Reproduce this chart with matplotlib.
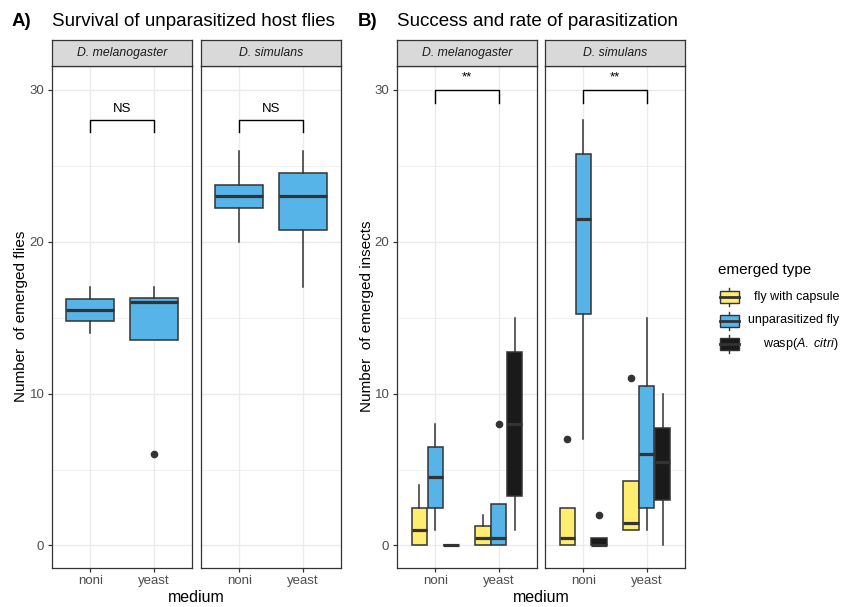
import numpy as np
import matplotlib
matplotlib.use("Agg")
import matplotlib.pyplot as plt
from matplotlib.patches import Rectangle

plt.rcParams['font.family'] = ['Liberation Sans', 'DejaVu Sans']
plt.rcParams['mathtext.fontset'] = 'custom'
plt.rcParams['mathtext.rm'] = 'Liberation Sans'
plt.rcParams['mathtext.it'] = 'Liberation Sans:italic'

# ---- data ----
species = ['D. melanogaster', 'D. simulans']
media = ['noni', 'yeast']

# panel A: unparasitized flies, [species][medium]
a_q1 = [[14.75, 13.5], [22.25, 20.75]]
a_med = [[15.5, 16.0], [23.0, 23.0]]
a_q3 = [[16.25, 16.3], [23.75, 24.5]]
a_lo = [[14.0, 13.5], [20.0, 17.0]]
a_hi = [[17.0, 17.0], [26.0, 26.0]]
a_out = [[[], [6.0]], [[], []]]
a_sig = ['NS', 'NS']

# panel B: emerged type, [species][medium][type]
types = ['fly with capsule', 'unparasitized fly', 'wasp(A. citri)']
type_cols = ['#FFED6F', '#56B4E9', '#1A1A1A']
b_q1 = [[[0, 2.5, 0], [0, 0, 3.25]], [[0, 15.25, 0], [1.0, 2.5, 3.0]]]
b_med = [[[1.0, 4.5, 0], [0.5, 0.5, 8.0]], [[0.5, 21.5, 0], [1.5, 6.0, 5.5]]]
b_q3 = [[[2.5, 6.5, 0], [1.25, 2.75, 12.75]], [[2.5, 25.75, 0.5], [4.25, 10.5, 7.75]]]
b_lo = [[[0, 1.0, 0], [0, 0, 1.0]], [[0, 7.0, 0], [1.0, 1.0, 0]]]
b_hi = [[[4.0, 8.0, 0], [2.0, 2.75, 15.0]], [[2.5, 28.0, 0.5], [4.25, 15.0, 10.0]]]
b_out = [[[[], [], []], [[], [8.0], []]], [[[7.0], [], [2.0]], [[11.0], [], []]]]
b_sig = ['**', '**']

W, H = 841, 607
fig = plt.figure(figsize=(W / 100, H / 100), dpi=100)

edge = '#333333'
ylim = (-1.45, 31.6)


def px_axes(x0, y0, x1, y1):
    return fig.add_axes([x0 / W, 1 - y1 / H, (x1 - x0) / W, (y1 - y0) / H])


def style_panel(ax, show_y):
    ax.set_xlim(0.4, 2.6)
    ax.set_ylim(*ylim)
    ax.set_xticks([1, 2])
    ax.set_xticklabels(media)
    ax.set_yticks([0, 10, 20, 30])
    ax.set_yticks([5, 15, 25], minor=True)
    ax.grid(True, which='major', color='#EBEBEB', lw=1.0, zorder=0)
    ax.grid(True, which='minor', axis='y', color='#EBEBEB', lw=0.5, zorder=0)
    ax.set_axisbelow(True)
    for s in ax.spines.values():
        s.set_color('#333333')
        s.set_linewidth(0.9)
    ax.tick_params(which='major', length=3, color='#333333', labelcolor='#4D4D4D',
                   labelsize=9.5, width=0.9, pad=2.5)
    ax.tick_params(which='minor', length=0)
    if not show_y:
        ax.tick_params(axis='y', left=False, labelleft=False)


def strip(x0, x1, label):
    s = px_axes(x0, 39.5, x1, 65.5)
    s.set_facecolor('#D9D9D9')
    s.set_xticks([])
    s.set_yticks([])
    for sp in s.spines.values():
        sp.set_color('#333333')
        sp.set_linewidth(0.9)
    s.text(0.5, 0.47, label, ha='center', va='center', fontsize=8.8, style='italic',
           color='#1A1A1A', transform=s.transAxes)


def draw_box(ax, pos, width, q1, med, q3, lo, hi, fl, fc):
    st = [dict(med=med, q1=q1, q3=q3, whislo=lo, whishi=hi, fliers=fl)]
    ax.bxp(st, positions=[pos], widths=width, patch_artist=True, showcaps=False,
           manage_ticks=False,
           boxprops=dict(facecolor=fc, edgecolor=edge, lw=1.1),
           medianprops=dict(color=edge, lw=2.3),
           whiskerprops=dict(color=edge, lw=1.1),
           flierprops=dict(marker='o', markerfacecolor=edge, markeredgecolor=edge,
                           markersize=4.5), zorder=3)


def bracket(ax, y, drop, label, ty):
    ax.plot([1, 1, 2, 2], [y - drop, y, y, y - drop], color='black', lw=1.0, zorder=4)
    ax.text(1.5, ty, label, ha='center', va='bottom', fontsize=9.5)


# ---- panel A ----
a_x = [(52, 192), (201, 341)]
for i, (x0, x1) in enumerate(a_x):
    ax = px_axes(x0, 65.5, x1, 567.5)
    for j in range(2):
        draw_box(ax, j + 1, 0.75, a_q1[i][j], a_med[i][j], a_q3[i][j],
                 a_lo[i][j], a_hi[i][j], a_out[i][j], '#56B4E9')
    style_panel(ax, i == 0)
    bracket(ax, 28.0, 0.8, a_sig[i], 28.35)
    strip(x0, x1, species[i])
    if i == 0:
        ax.set_ylabel('Number  of emerged flies', fontsize=11, labelpad=1)

# ---- panel B ----
b_x = [(397, 537), (545, 685)]
offs = [-0.25, 0.0, 0.25]
for i, (x0, x1) in enumerate(b_x):
    ax = px_axes(x0, 65.5, x1, 567.5)
    for j in range(2):
        for k in range(3):
            draw_box(ax, j + 1 + offs[k], 0.24, b_q1[i][j][k], b_med[i][j][k],
                     b_q3[i][j][k], b_lo[i][j][k], b_hi[i][j][k], b_out[i][j][k],
                     type_cols[k])
    style_panel(ax, i == 0)
    bracket(ax, 30.0, 0.85, b_sig[i], 30.4)
    strip(x0, x1, species[i])
    if i == 0:
        ax.set_ylabel('Number  of emerged insects', fontsize=11, labelpad=0)

# titles and x labels
fig.text(12 / W, 1 - 21 / H, 'A)', fontsize=13.5, fontweight='bold', va='center')
fig.text(52 / W, 1 - 21 / H, 'Survival of unparasitized host flies', fontsize=13.5, va='center')
fig.text(358 / W, 1 - 21 / H, 'B)', fontsize=13.5, fontweight='bold', va='center')
fig.text(397 / W, 1 - 21 / H, 'Success and rate of parasitization', fontsize=13.5, va='center')
fig.text(196 / W, 1 - 597 / H, 'medium', fontsize=11.5, ha='center', va='center')
fig.text(541 / W, 1 - 597 / H, 'medium', fontsize=11.5, ha='center', va='center')

# legend
lg = fig.add_axes([0, 0, 1, 1])
lg.set_xlim(0, W)
lg.set_ylim(H, 0)
lg.axis('off')
lg.text(718, 270, 'emerged type', fontsize=11, va='center')
leg_labels = ['fly with capsule', 'unparasitized fly', r'wasp$\it{(A.\ citri)}$']
for k in range(3):
    yc = 297 + k * 23.5
    lg.plot([729.5, 729.5], [yc - 9, yc + 9], color=edge, lw=1.0)
    lg.add_patch(Rectangle((720, yc - 6), 19, 12, facecolor=type_cols[k],
                           edgecolor=edge, lw=1.0, zorder=3))
    lg.plot([720, 739], [yc, yc], color=edge, lw=2.0, zorder=4)
    lg.text(839, yc, leg_labels[k], fontsize=9, ha='right', va='center')

fig.savefig('out.png', dpi=100)
